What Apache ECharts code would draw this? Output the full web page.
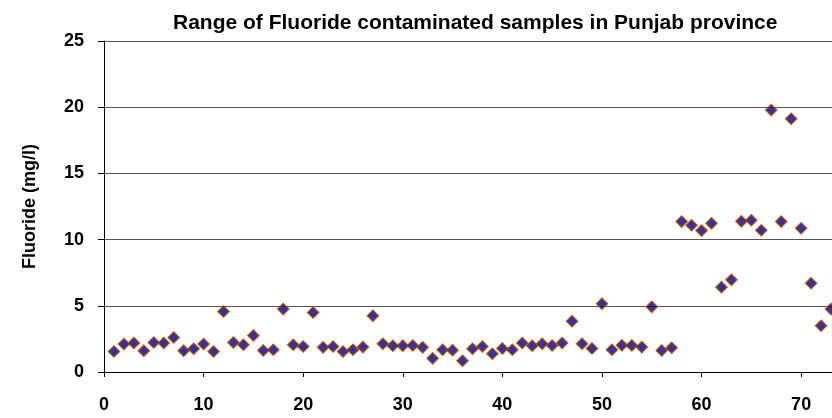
<!DOCTYPE html>
<html>
<head>
<meta charset="utf-8">
<script src="https://cdn.jsdelivr.net/npm/echarts@6/dist/echarts.min.js"></script>
<style>html,body{margin:0;padding:0;background:#fff;}#c{width:832px;height:418px;}</style>
</head>
<body>
<div id="c"></div>
<script>
const titleText = 'Range of Fluoride contaminated samples in Punjab province';
const yAxisName = 'Fluoride (mg/l)';
const sampleNo = [];
for (let i = 1; i <= 73; i++) sampleNo.push(i);
const fluoride = [
  1.55, 2.11, 2.19, 1.61, 2.23, 2.19, 2.61, 1.61, 1.76, 2.11,
  1.55, 4.57, 2.23, 2.06, 2.76, 1.63, 1.68, 4.75, 2.06, 1.93,
  4.49, 1.86, 1.93, 1.55, 1.68, 1.88, 4.25, 2.13, 1.98, 1.99,
  2.00, 1.86, 1.03, 1.68, 1.65, 0.85, 1.76, 1.93, 1.38, 1.78,
  1.68, 2.19, 1.98, 2.13, 2.00, 2.19, 3.84, 2.13, 1.78, 5.15,
  1.68, 2.02, 2.01, 1.88, 4.92, 1.63, 1.83, 11.36, 11.08, 10.68,
  11.23, 6.41, 6.96, 11.38, 11.46, 10.71, 19.78, 11.36, 19.13, 10.86,
  6.71, 3.49, 4.75
];
const xTicks = [0, 10, 20, 30, 40, 50, 60, 70];
const xVisibleMax = 73.1;
const yTicks = [0, 5, 10, 15, 20, 25];

const points = sampleNo.map((n, i) => [n, fluoride[i]]);
const font = 'Arial, "Liberation Sans", sans-serif';
const chart = echarts.init(document.getElementById('c'), null, {renderer: 'canvas'});
chart.setOption({
  animation: false,
  backgroundColor: '#ffffff',
  title: {
    text: titleText,
    left: 168, top: 8,
    textStyle: {fontFamily: font, fontSize: 21, fontWeight: 'bold', color: '#000'}
  },
  grid: {left: 104, top: 41, bottom: 46, right: 0, containLabel: false},
  xAxis: {
    type: 'value',
    min: 0, max: xVisibleMax,
    axisLine: {show: true, lineStyle: {color: '#000', width: 1}},
    axisTick: {show: true, length: 5, inside: false, customValues: xTicks, lineStyle: {color: '#000'}},
    axisLabel: {margin: 24, customValues: xTicks, fontFamily: font, fontSize: 18, fontWeight: 'bold', color: '#000'},
    splitLine: {show: false}
  },
  yAxis: {
    type: 'value',
    min: yTicks[0], max: yTicks[yTicks.length - 1], interval: 5,
    name: yAxisName,
    nameLocation: 'middle',
    nameGap: 65,
    nameRotate: 90,
    nameTextStyle: {fontFamily: font, fontSize: 18, fontWeight: 'bold', color: '#000'},
    axisLine: {show: true, lineStyle: {color: '#000', width: 1}},
    axisTick: {show: true, length: 6, inside: false, lineStyle: {color: '#000'}},
    axisLabel: {margin: 20, fontFamily: font, fontSize: 18, fontWeight: 'bold', color: '#000'},
    splitLine: {show: true, lineStyle: {color: '#555', width: 1}}
  },
  series: [{
    type: 'scatter',
    data: points,
    symbol: 'diamond',
    symbolSize: 11,
    clip: false,
    itemStyle: {color: '#000080', borderColor: '#a23c00', borderWidth: 1.5}
  }]
});
</script>
</body>
</html>
